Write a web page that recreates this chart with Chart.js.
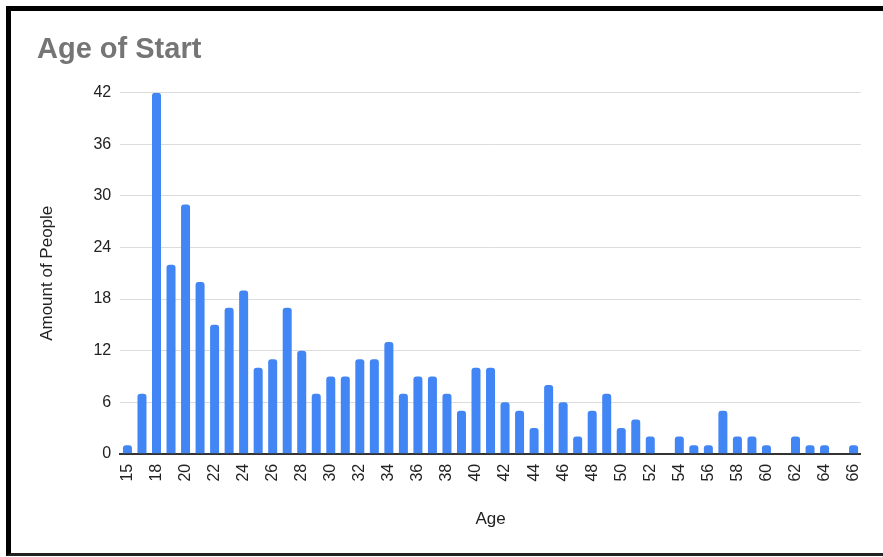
<!DOCTYPE html>
<html lang="en">

<head>
  <meta charset="UTF-8">
  <title>Age of Start</title>
  <script src="https://cdn.jsdelivr.net/npm/chart.js"></script>
  <style>
    html, body { margin: 0; padding: 0; background: #fff; }
    .wrap { position: relative; width: 883px; height: 557px; }
    .frame {
      position: absolute; left: 6px; top: 6px; width: 877px; height: 550px;
      box-sizing: border-box;
      border-left: 5px solid #000; border-top: 5px solid #000; border-bottom: 3px solid #222;
      pointer-events: none;
    }
    canvas { position: absolute; left: 0; top: 0; }
  </style>
</head>

<body>
  <div class="wrap">
    <canvas id="myChart"></canvas>
    <div class="frame"></div>
  </div>
</body>

</html>
<script>
  // ages that show up in the survey (16 is missing)
  const ages = ['15', '17', '18', '19', '20', '21', '22', '23', '24', '25', '26', '27', '28', '29', '30',
    '31', '32', '33', '34', '35', '36', '37', '38', '39', '40', '41', '42', '43', '44', '45', '46', '47',
    '48', '49', '50', '51', '52', '53', '54', '55', '56', '57', '58', '59', '60', '61', '62', '63', '64',
    '65', '66'];

  // amount of people per age
  const people = [1, 7, 42, 22, 29, 20, 15, 17, 19, 10, 11, 17, 12, 7, 9,
    9, 11, 11, 13, 7, 9, 9, 7, 5, 10, 10, 6, 5, 3, 8, 6, 2,
    5, 7, 3, 4, 2, 0, 2, 1, 1, 5, 2, 2, 1, 0, 2, 1, 1,
    0, 1];

  const yTicks = [0, 6, 12, 18, 24, 30, 36, 42];

  const fonte = 'Liberation Sans, Arial, sans-serif';

  const dados = {
    labels: ages,
    datasets: [{
      label: 'Amount of People',
      data: people,
      backgroundColor: '#4285F4',
      borderRadius: { topLeft: 3, topRight: 3 },
      borderSkipped: 'start',
      barPercentage: 0.62,
      categoryPercentage: 1
    }]
  };

  const config = {
    type: 'bar',
    data: dados,
    options: {
      responsive: true,
      maintainAspectRatio: false,
      animation: false,
      layout: { padding: { left: 37, right: 21, top: 0, bottom: 0 } },
      plugins: {
        legend: { display: false },
        tooltip: { enabled: false },
        title: {
          display: true,
          text: 'Age of Start',
          align: 'start',
          color: '#757575',
          font: { family: fonte, size: 29, weight: 'bold', lineHeight: 1.2 },
          padding: { top: 33, bottom: 25 }
        }
      },
      scales: {
        x: {
          grid: { display: false, drawTicks: false },
          border: { display: true, color: '#333', width: 2 },
          ticks: {
            autoSkip: false,
            maxRotation: 90,
            minRotation: 90,
            padding: 10,
            color: '#222',
            font: { family: fonte, size: 16 },
            callback: function (v, i) { return i % 2 === 0 ? ages[i] : ''; }
          },
          title: {
            display: true,
            text: 'Age',
            color: '#222',
            font: { family: fonte, size: 17, lineHeight: 1.2 },
            padding: { top: 18, bottom: 27 }
          }
        },
        y: {
          min: 0,
          max: 42,
          afterBuildTicks: function (axis) { axis.ticks = yTicks.map(v => ({ value: v })); },
          grid: { color: '#dcdcdc', lineWidth: 1, drawTicks: false },
          border: { display: false },
          ticks: {
            padding: 9,
            color: '#222',
            font: { family: fonte, size: 16 }
          },
          title: {
            display: true,
            text: 'Amount of People',
            color: '#222',
            font: { family: fonte, size: 17, lineHeight: 1.2 },
            padding: { top: 0, bottom: 27 }
          }
        }
      }
    }
  };

  let myChart = new Chart(document.getElementById('myChart'), config);
</script>
